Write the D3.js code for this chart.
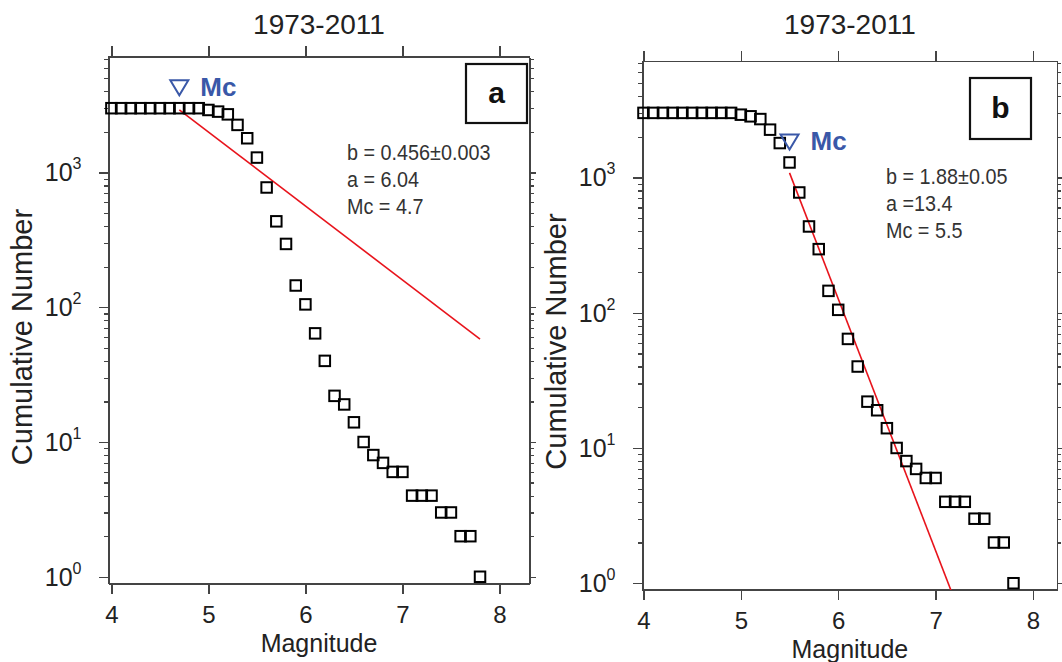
<!DOCTYPE html>
<html>
<head>
<meta charset="utf-8">
<script src="https://cdn.jsdelivr.net/npm/d3@7"></script>
<style>
    body { margin: 0; background: #fff; }
    text { font-family: "Liberation Sans", Arial, sans-serif; fill: #222; }
    .axis path, .axis line { stroke: #444; stroke-width: 1.2; shape-rendering: crispEdges; }
    .frame { fill: none; stroke: #444; stroke-width: 1.2; shape-rendering: crispEdges; }
    .point { fill: none; stroke: #000; stroke-width: 2; }
    .fit { fill: none; stroke: #e8141c; stroke-width: 1.6; }
    .mc { fill: #3a58a8; font-weight: bold; }
    .letterBox { fill: none; stroke: #111; stroke-width: 2.2; }
</style>
</head>
<body>
<script>
//wrap everything in a self-executing anonymous function
(function(){

//magnitude bins (same catalogue in both panels)
var magnitudes = [4.0, 4.1, 4.2, 4.3, 4.4, 4.5, 4.6, 4.7, 4.8, 4.9,
                  5.0, 5.1, 5.2, 5.3, 5.4, 5.5, 5.6, 5.7, 5.8, 5.9,
                  6.0, 6.1, 6.2, 6.3, 6.4, 6.5, 6.6, 6.7, 6.8, 6.9,
                  7.0, 7.1, 7.2, 7.3, 7.4, 7.5, 7.6, 7.7, 7.8];

//cumulative number of events with magnitude >= bin
var cumulativeNumbers = [3000, 3000, 3000, 3000, 3000, 3000, 3000, 3000, 3000, 3000,
                         2910, 2830, 2700, 2255, 1795, 1290, 774, 434, 295, 145,
                         105, 64, 40, 22, 19, 14, 10, 8, 7, 6,
                         6, 4, 4, 4, 3, 3, 2, 2, 1];

//panel texts
var panelTitles = ["1973-2011", "1973-2011"];
var panelLetters = ["a", "b"];
var mcValues = [4.7, 5.5];
var statTexts = [
    ["b = 0.456\u00b10.003", "a = 6.04", "Mc = 4.7"],
    ["b = 1.88\u00b10.05", "a =13.4", "Mc = 5.5"]
];

//fitted Gutenberg-Richter lines, [magnitude, number] end points
var fitLines = [
    [[4.7, 2920], [7.8, 58]],
    [[5.5, 1080], [7.2, 0.74]]
];

//tick values
var xTickValues = [4, 5, 6, 7, 8];
var yMajorTicks = [1, 10, 100, 1000];
var yExponents = ["0", "1", "2", "3"];
var yMinorTicks = [2, 3, 4, 5, 6, 7, 8, 9,
                   20, 30, 40, 50, 60, 70, 80, 90,
                   200, 300, 400, 500, 600, 700, 800, 900,
                   2000, 3000, 4000, 5000, 6000, 7000];

//frame of each panel in page pixels
var frames = [
    {left: 108.5, right: 529.5, top: 57, bottom: 583.5, xMin: 3.97, xMax: 8.31,
     letterBox: [466, 64, 61, 59], statX: 347, statY: 160},
    {left: 642.5, right: 1057.3, top: 61.5, bottom: 590, xMin: 3.99, xMax: 8.25,
     letterBox: [970, 78, 61, 61], statX: 886, statY: 184}
];

var width = 1062,
    height = 662;

var svg = d3.select("body")
    .append("svg")
    .attr("width", width)
    .attr("height", height);

var points = magnitudes.map(function(m, i){ return {mag: m, n: cumulativeNumbers[i]}; });

frames.forEach(function(f, i){ drawPanel(f, i); });

function drawPanel(f, i){

    var x = d3.scaleLinear()
        .domain([f.xMin, f.xMax])
        .range([f.left, f.right]);

    var y = d3.scaleLog()
        .domain([Math.pow(10, -0.05), Math.pow(10, 3.857)])
        .range([f.bottom, f.top]);

    var g = svg.append("g").attr("class", "panel" + i);

    //clip path for the fit line
    g.append("clipPath")
        .attr("id", "clip" + i)
        .append("rect")
        .attr("x", f.left)
        .attr("y", f.top)
        .attr("width", f.right - f.left)
        .attr("height", f.bottom - f.top);

    //bottom axis with labels
    g.append("g")
        .attr("class", "axis")
        .attr("transform", "translate(0," + f.bottom + ")")
        .call(d3.axisBottom(x).tickValues(xTickValues).tickSize(10).tickSizeOuter(0)
            .tickPadding(12).tickFormat(d3.format("d")))
        .call(function(a){
            a.selectAll("text").style("font-size", "24px").style("font-family", "Liberation Sans, Arial, sans-serif").attr("fill", "#222");
        });

    //top axis, ticks only
    g.append("g")
        .attr("class", "axis")
        .attr("transform", "translate(0," + (f.top - 1) + ")")
        .call(d3.axisTop(x).tickValues(xTickValues).tickSize(10).tickSizeOuter(0).tickFormat(""))
        .call(function(a){ a.select(".domain").remove(); });

    //left axis, majors with superscript labels
    var left = g.append("g")
        .attr("class", "axis")
        .attr("transform", "translate(" + f.left + ",0)")
        .call(d3.axisLeft(y).tickValues(yMajorTicks).tickSize(10).tickSizeOuter(0).tickFormat(""));

    left.append("g")
        .call(d3.axisLeft(y).tickValues(yMinorTicks).tickSize(5).tickSizeOuter(0).tickFormat(""))
        .call(function(a){ a.select(".domain").remove(); });

    var labels = left.selectAll(".powLabel")
        .data(yMajorTicks)
        .enter()
        .append("text")
        .attr("class", "powLabel")
        .attr("text-anchor", "end")
        .attr("x", -27)
        .attr("y", function(d){ return y(d) + 9; })
        .style("font-size", "25px");

    labels.append("tspan").text("10");
    labels.append("tspan")
        .attr("dy", -12)
        .style("font-size", "16px")
        .text(function(d, j){ return yExponents[j]; });

    //right axis, ticks only
    var right = g.append("g")
        .attr("class", "axis")
        .attr("transform", "translate(" + f.right + ",0)")
        .call(d3.axisRight(y).tickValues(yMajorTicks).tickSize(6).tickSizeOuter(0).tickFormat(""));

    right.append("g")
        .call(d3.axisRight(y).tickValues(yMinorTicks).tickSize(4).tickSizeOuter(0).tickFormat(""))
        .call(function(a){ a.select(".domain").remove(); });

    //plot frame
    g.append("rect")
        .attr("class", "frame")
        .attr("x", f.left)
        .attr("y", f.top)
        .attr("width", f.right - f.left)
        .attr("height", f.bottom - f.top);

    //panel title
    g.append("text")
        .attr("x", (f.left + f.right) / 2)
        .attr("y", 34)
        .attr("text-anchor", "middle")
        .style("font-size", "28px")
        .text(panelTitles[i]);

    //axis titles
    g.append("text")
        .attr("x", (f.left + f.right) / 2)
        .attr("y", f.bottom + 68)
        .attr("text-anchor", "middle")
        .style("font-size", "25px")
        .text("Magnitude");

    g.append("text")
        .attr("transform", "translate(" + (f.left - 77) + "," + (f.top + 280) + ") rotate(-90)")
        .attr("text-anchor", "middle")
        .style("font-size", "29px")
        .text("Cumulative Number");

    //fit line
    g.append("path")
        .datum(fitLines[i])
        .attr("class", "fit")
        .attr("clip-path", "url(#clip" + i + ")")
        .attr("d", d3.line()
            .x(function(d){ return x(d[0]); })
            .y(function(d){ return y(d[1]); }));

    //data squares
    var s = 10.5;
    g.selectAll(".point")
        .data(points)
        .enter()
        .append("rect")
        .attr("class", "point")
        .attr("x", function(d){ return x(d.mag) - s / 2; })
        .attr("y", function(d){ return y(d.n) - s / 2; })
        .attr("width", s)
        .attr("height", s);

    //Mc marker above the data point at Mc
    var mcIndex = magnitudes.indexOf(mcValues[i]);
    var mx = x(mcValues[i]),
        my = y(cumulativeNumbers[mcIndex]) - 21;

    g.append("path")
        .attr("d", "M" + (mx - 9) + "," + (my - 7) + "L" + (mx + 9) + "," + (my - 7) + "L" + mx + "," + (my + 8) + "Z")
        .attr("fill", "none")
        .attr("stroke", "#3a58a8")
        .attr("stroke-width", 2);

    g.append("text")
        .attr("class", "mc")
        .attr("x", mx + 21)
        .attr("y", my + 9)
        .style("font-size", "26px")
        .text("Mc");

    //statistics, slightly condensed like the original
    g.selectAll(".stat")
        .data(statTexts[i])
        .enter()
        .append("text")
        .attr("class", "stat")
        .attr("transform", function(d, j){
            return "translate(" + f.statX + "," + (f.statY + j * 26.8) + ") scale(0.9,1)";
        })
        .style("font-size", "22px")
        .style("fill", "#333")
        .text(function(d){ return d; });

    //panel letter box
    var lb = f.letterBox;
    g.append("rect")
        .attr("class", "letterBox")
        .attr("x", lb[0])
        .attr("y", lb[1])
        .attr("width", lb[2])
        .attr("height", lb[3]);

    g.append("text")
        .attr("x", lb[0] + lb[2] / 2)
        .attr("y", lb[1] + lb[3] / 2 + 9)
        .attr("text-anchor", "middle")
        .style("font-size", "30px")
        .style("font-weight", "bold")
        .style("fill", "#111")
        .text(panelLetters[i]);
};

})();
</script>
</body>
</html>
